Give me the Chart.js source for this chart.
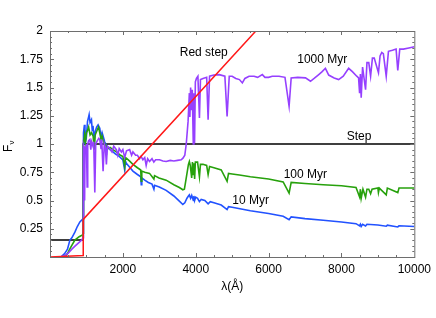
<!DOCTYPE html>
<html><head><meta charset="utf-8">
<script src="https://cdn.jsdelivr.net/npm/chart.js@4/dist/chart.umd.min.js"></script>
<style>html,body{margin:0;padding:0;background:#fff}</style>
</head><body>
<canvas id="c" width="436" height="318"></canvas>
<script>
// ---- data ----
const xTicks = [2000, 4000, 6000, 8000, 10000];
const yTicks = [0.25, 0.5, 0.75, 1, 1.25, 1.5, 1.75, 2];
const curveLabels = ['Red step', '1000 Myr', 'Step', '100 Myr', '10 Myr'];

const redStep = [[0,0],[912,0.013],[912,0.333],[5650,2]];
const step = [[0,0.15],[912,0.15],[912,1],[10000,1]];

const myr10 = [[300,0],[400,0.03],[480,0.07],[546,0.15],[600,0.17],[683,0.22],[750,0.27],[820,0.31],[880,0.33],[910,0.34],
[914,0.8],[925,1.1],[945,1.17],[960,1.0],[975,1.12],[1000,1.07],[1030,1.2],[1060,1.24],[1074,1.26],[1100,1.19],[1138,1.215],[1160,1.12],[1180,1.16],[1215,1.02],[1240,1.11],[1280,1.15],[1320,1.17],[1366,1.14],[1400,1.06],[1430,1.1],[1457,1.07],[1500,1.02],[1530,1.0],[1548,0.9],[1565,0.98],[1650,0.95],[1730,0.93],[1800,0.91],[1900,0.89],[2000,0.86],[2050,0.77],[2070,0.85],[2095,0.83],[2200,0.79],[2276,0.76],[2400,0.73],[2490,0.71],[2505,0.64],[2520,0.7],[2600,0.68],[2700,0.66],[2800,0.645],[2852,0.6],[2870,0.635],[3000,0.62],[3188,0.59],[3400,0.54],[3550,0.495],[3646,0.465],[3700,0.48],[3760,0.52],[3800,0.54],[3825,0.55],[3860,0.52],[3890,0.545],[3935,0.5],[3950,0.54],[3970,0.5],[4000,0.53],[4050,0.52],[4102,0.49],[4150,0.51],[4250,0.5],[4340,0.47],[4400,0.49],[4500,0.48],[4700,0.46],[4861,0.42],[4900,0.445],[5000,0.44],[5500,0.41],[6000,0.385],[6400,0.36],[6563,0.33],[6620,0.355],[7000,0.34],[7500,0.325],[8000,0.31],[8400,0.295],[8498,0.275],[8520,0.29],[8542,0.27],[8580,0.29],[8662,0.275],[8700,0.29],[9000,0.283],[9229,0.272],[9260,0.282],[9546,0.266],[9580,0.276],[10000,0.27]];

const myr100 = [[400,0],[480,0.03],[560,0.08],[683,0.15],[800,0.18],[893,0.195],[910,0.21],
[914,0.7],[925,1.0],[950,1.08],[975,1.02],[1000,1.10],[1030,1.12],[1060,1.15],[1100,1.08],[1140,1.1],[1184,1.07],[1215,0.95],[1240,1.08],[1290,1.12],[1330,1.15],[1366,1.10],[1400,1.04],[1430,1.07],[1457,1.03],[1500,1.0],[1549,0.98],[1600,0.96],[1650,0.97],[1730,0.95],[1820,0.93],[1913,0.905],[2000,0.89],[2050,0.8],[2070,0.88],[2095,0.875],[2180,0.85],[2276,0.82],[2400,0.79],[2490,0.77],[2505,0.67],[2520,0.76],[2600,0.75],[2732,0.74],[2852,0.69],[2870,0.72],[2992,0.70],[3188,0.68],[3400,0.64],[3550,0.615],[3646,0.595],[3689,0.60],[3730,0.68],[3780,0.78],[3800,0.82],[3825,0.845],[3850,0.81],[3889,0.7],[3910,0.84],[3935,0.73],[3950,0.83],[3970,0.69],[3990,0.84],[4050,0.84],[4102,0.71],[4130,0.82],[4200,0.82],[4300,0.81],[4340,0.73],[4380,0.8],[4500,0.79],[4700,0.77],[4861,0.67],[4900,0.74],[5000,0.735],[5200,0.725],[5500,0.71],[6000,0.69],[6400,0.665],[6563,0.565],[6620,0.66],[7000,0.65],[7500,0.64],[8000,0.63],[8400,0.615],[8498,0.53],[8520,0.6],[8542,0.52],[8590,0.6],[8662,0.53],[8700,0.6],[8750,0.6],[8800,0.56],[8840,0.6],[9000,0.61],[9015,0.57],[9040,0.61],[9229,0.55],[9260,0.61],[9546,0.57],[9580,0.61],[10000,0.61]];

const myr1000 = [[270,0],[400,0.01],[500,0.035],[600,0.07],[700,0.1],[800,0.13],[870,0.15],[910,0.17],
[914,0.6],[925,0.98],[940,0.95],[950,0.5],[962,0.98],[985,0.92],[1000,1.0],[1020,0.62],[1035,1.0],[1060,1.03],[1093,1.04],[1120,0.95],[1140,1.02],[1180,0.98],[1200,1.02],[1230,0.57],[1255,1.0],[1300,1.03],[1340,1.05],[1366,1.04],[1400,0.96],[1420,1.04],[1457,0.76],[1490,1.0],[1520,0.97],[1548,0.82],[1575,0.98],[1640,0.96],[1700,0.93],[1750,0.98],[1822,0.95],[1860,0.9],[1900,0.96],[1960,0.93],[2000,0.95],[2050,0.88],[2100,0.94],[2186,0.95],[2240,0.9],[2276,0.93],[2350,0.9],[2400,0.9],[2459,0.87],[2500,0.89],[2550,0.86],[2600,0.88],[2640,0.81],[2680,0.87],[2732,0.845],[2800,0.87],[2850,0.84],[2900,0.86],[3005,0.86],[3100,0.85],[3188,0.845],[3300,0.855],[3400,0.85],[3500,0.855],[3600,0.86],[3650,0.875],[3700,0.9],[3740,1.0],[3790,1.2],[3825,1.45],[3840,1.24],[3860,1.5],[3880,1.3],[3905,1.48],[3933,1.0],[3950,1.45],[3968,1.01],[3990,1.55],[4020,1.58],[4060,1.6],[4102,1.23],[4130,1.57],[4200,1.58],[4300,1.59],[4340,1.215],[4380,1.6],[4500,1.61],[4645,1.614],[4800,1.6],[4861,1.244],[4920,1.6],[5000,1.6],[5100,1.58],[5200,1.57],[5280,1.54],[5350,1.58],[5464,1.6],[5600,1.6],[5700,1.59],[5828,1.614],[5900,1.59],[6000,1.59],[6100,1.6],[6284,1.6],[6450,1.59],[6563,1.333],[6620,1.585],[6800,1.59],[7013,1.585],[7150,1.555],[7250,1.58],[7377,1.614],[7470,1.64],[7560,1.67],[7650,1.61],[7800,1.585],[7923,1.57],[8050,1.6],[8197,1.67],[8300,1.64],[8420,1.6],[8470,1.585],[8498,1.45],[8520,1.62],[8542,1.41],[8580,1.68],[8662,1.48],[8700,1.72],[8750,1.72],[8800,1.6],[8850,1.76],[8900,1.76],[9016,1.63],[9060,1.78],[9107,1.81],[9150,1.8],[9229,1.6],[9290,1.82],[9400,1.83],[9500,1.84],[9546,1.65],[9600,1.84],[9700,1.84],[9850,1.85],[10000,1.86]];

// ---- chart ----
const FONT = '"Liberation Sans", Arial, Helvetica, sans-serif';
const pts = a => a.map(p => ({x: p[0], y: p[1]}));
const line = (d, color, w) => ({data: pts(d), borderColor: color, borderWidth: w, showLine: true, pointRadius: 0, fill: false, tension: 0});

const frame = {
  id: 'frame',
  afterDatasetsDraw(chart) {
    const {ctx, chartArea: a, scales: {x, y}} = chart;
    ctx.save();
    ctx.strokeStyle = '#6e6e6e';
    ctx.lineWidth = 1;
    ctx.strokeRect(a.left + 0.5, a.top + 0.5, a.right - a.left, a.bottom - a.top);
    ctx.beginPath();
    for (let v = 500; v < 10000; v += 500) {
      const px = Math.round(x.getPixelForValue(v)) + 0.5;
      const L = xTicks.includes(v) ? 4 : 2;
      ctx.moveTo(px, a.bottom); ctx.lineTo(px, a.bottom - L);
      ctx.moveTo(px, a.top); ctx.lineTo(px, a.top + L);
    }
    for (let i = 1; i < 40; i++) {
      const v = i * 0.05;
      const py = Math.round(y.getPixelForValue(v)) + 0.5;
      const L = (i % 5 === 0) ? 4 : 2;
      ctx.moveTo(a.left, py); ctx.lineTo(a.left + L, py);
      ctx.moveTo(a.right, py); ctx.lineTo(a.right - L, py);
    }
    ctx.stroke();
    ctx.restore();
  },
  afterDraw(chart) {
    const {ctx, chartArea: a, scales: {x, y}} = chart;
    ctx.save();
    ctx.fillStyle = '#000';
    ctx.font = '12px ' + FONT;
    ctx.textAlign = 'center';
    ctx.textBaseline = 'middle';
    const anchors = [[4221,1.81],[7473,1.75],[8484,1.064],[7008,0.727],[5505,0.497]];
    curveLabels.forEach((t, i) => ctx.fillText(t, x.getPixelForValue(anchors[i][0]), y.getPixelForValue(anchors[i][1])));
    // x title
    ctx.fillText('λ(Å)', (a.left + a.right) / 2, 287);
    // y title, rotated
    ctx.translate(9, 148);
    ctx.rotate(-Math.PI / 2);
    ctx.textAlign = 'left';
    ctx.fillText('F', -4, 0);
    ctx.font = '8px ' + FONT;
    ctx.fillText('ν', 3.5, 3);
    ctx.restore();
  }
};

new Chart(document.getElementById('c'), {
  type: 'scatter',
  data: { datasets: [
    line(redStep, '#ff1a1a', 1.5),
    line(myr1000, '#9640ff', 1.6),
    line(myr100, '#27a10c', 1.6),
    line(myr10, '#2252ff', 1.6),
    line(step, '#000000', 1.5)
  ]},
  options: {
    responsive: false, animation: false, events: [],
    layout: { padding: { left: 0, right: 20, top: 31, bottom: 0 } },
    plugins: { legend: { display: false }, tooltip: { enabled: false } },
    scales: {
      x: {
        type: 'linear', min: 0, max: 10000,
        afterBuildTicks: s => { s.ticks = xTicks.map(v => ({value: v})); },
        afterFit: s => { s.height = 61; },
        grid: { display: false, drawTicks: false }, border: { display: false },
        ticks: { callback: v => String(v), color: '#000', padding: 5, maxRotation: 0, autoSkip: false, font: { family: FONT, size: 12 } }
      },
      y: {
        type: 'linear', min: 0, max: 2,
        afterBuildTicks: s => { s.ticks = yTicks.map(v => ({value: v})); },
        afterFit: s => { s.width = 50; },
        grid: { display: false, drawTicks: false }, border: { display: false },
        ticks: { callback: v => String(v), color: '#000', padding: 7, autoSkip: false, font: { family: FONT, size: 12 } }
      }
    }
  },
  plugins: [frame]
});
</script>
</body></html>
